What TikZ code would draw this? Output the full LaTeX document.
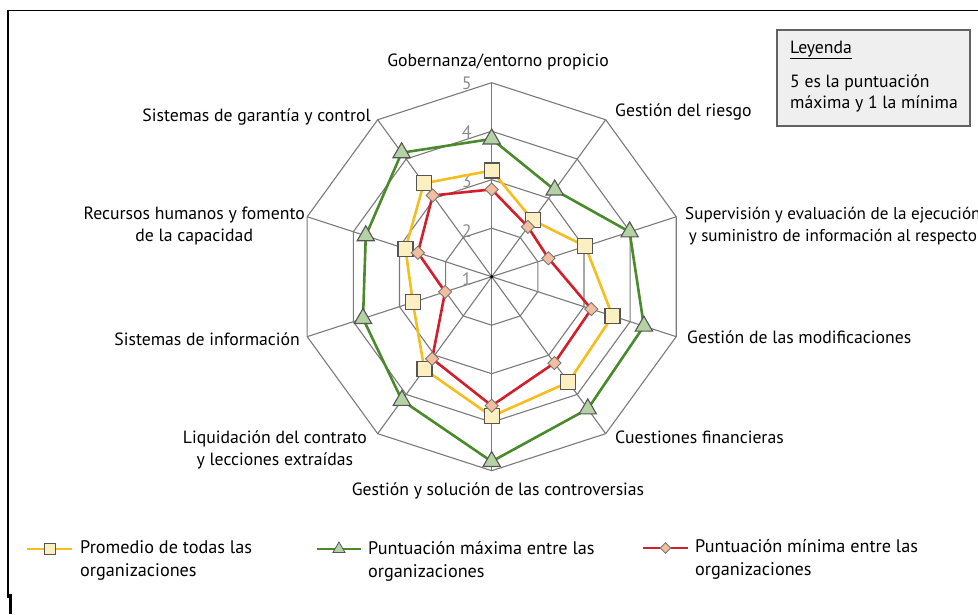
\documentclass[tikz,border=0pt]{standalone}
\usepackage{fontspec}
\setmainfont{PT Sans}
\usetikzlibrary{calc,shapes.geometric}
\definecolor{gridc}{HTML}{7A7A7A}
\definecolor{avgc}{HTML}{F5BE1E}
\definecolor{maxc}{HTML}{4A8A2A}
\definecolor{minc}{HTML}{D21F2B}
\definecolor{avgf}{HTML}{FCEFC2}
\definecolor{maxf}{HTML}{B4D2A4}
\definecolor{minf}{HTML}{F3BE9E}
\definecolor{markb}{HTML}{555555}
\definecolor{lvlc}{HTML}{8C8C8C}
\definecolor{legfill}{HTML}{EFEFEF}
\tikzset{
  gridline/.style={draw=gridc, line width=1.1pt},
  avgline/.style={draw=avgc, line width=2.6pt, line join=round},
  maxline/.style={draw=maxc, line width=2.6pt, line join=round},
  minline/.style={draw=minc, line width=2.6pt, line join=round},
  sqmark/.style={rectangle, draw=markb, fill=avgf, line width=1.2pt, minimum size=15pt, inner sep=0pt},
  trimark/.style={regular polygon, regular polygon sides=3, draw=markb, fill=maxf, line width=1.1pt, minimum size=20pt, inner sep=0pt},
  dimark/.style={diamond, draw=markb!80, fill=minf, line width=0.9pt, minimum size=13.5pt, inner sep=0pt},
  lvl/.style={text=lvlc, font=\fontsize{18}{18}\selectfont, inner sep=0pt},
  axl/.style={inner sep=0pt, align=center},
  legtext/.style={inner sep=0pt, anchor=west, align=left, font=\fontsize{18.2}{23}\selectfont},
  legbox/.style={draw=gridc!80!black, fill=legfill, line width=1.6pt, minimum width=193pt, minimum height=96pt, inner sep=0pt}
}
\begin{document}
\begin{tikzpicture}[x=1pt,y=-1pt, font=\fontsize{17.7}{22}\selectfont]
\useasboundingbox (0,0) rectangle (978,614);
% frame
\draw[line width=1.2pt] (8,598) -- (8,10.5) -- (978,10.5);
\draw[line width=2.2pt] (10.5,594) -- (10.5,614);
\coordinate (C) at (491.7,276.7);
% grid coordinates
\foreach \l in {1,...,4}{
  \foreach \k in {0,...,9}{
    \coordinate (g\l-\k) at ($(C)+(36*\k-90:\l*48.5)$);
  }
}
\foreach \k in {0,...,9}{ \draw[gridline] (C) -- (g4-\k); }
\foreach \l in {1,...,4}{
  \draw[gridline] (g\l-0) -- (g\l-1) -- (g\l-2) -- (g\l-3) -- (g\l-4) -- (g\l-5) -- (g\l-6) -- (g\l-7) -- (g\l-8) -- (g\l-9) -- cycle;
}
\fill (C) circle (1.8pt);
% level labels
\node[lvl] (lv1) at (466.7,279) {1};
\node[lvl] (lv2) at (466.7,231) {2};
\node[lvl] (lv3) at (466.7,181) {3};
\node[lvl] (lv4) at (466.7,132) {4};
\node[lvl] (lv5) at (466.7,83) {5};
% data
\foreach \v [count=\k from 0] in {3.19,2.44,3.03,3.62,3.69,3.88,3.36,2.71,2.87,3.38}{
  \coordinate (a\k) at ($(C)+(36*\k-90:{(\v-1)*48.5})$);
}
\foreach \v [count=\k from 0] in {3.84,3.21,3.99,4.30,4.37,4.81,4.15,3.79,3.73,4.16}{
  \coordinate (x\k) at ($(C)+(36*\k-90:{(\v-1)*48.5})$);
}
\foreach \v [count=\k from 0] in {2.80,2.27,2.23,3.16,3.20,3.66,3.09,2.01,2.60,3.07}{
  \coordinate (n\k) at ($(C)+(36*\k-90:{(\v-1)*48.5})$);
}
\draw[maxline] (x0) -- (x1) -- (x2) -- (x3) -- (x4) -- (x5) -- (x6) -- (x7) -- (x8) -- (x9) -- cycle;
\draw[avgline] (a0) -- (a1) -- (a2) -- (a3) -- (a4) -- (a5) -- (a6) -- (a7) -- (a8) -- (a9) -- cycle;
\draw[minline] (n0) -- (n1) -- (n2) -- (n3) -- (n4) -- (n5) -- (n6) -- (n7) -- (n8) -- (n9) -- cycle;
\foreach \k in {0,...,9}{
  \node[trimark] (mx\k) at (x\k) {};
  \node[sqmark] (ma\k) at (a\k) {};
  \node[dimark] (mn\k) at (n\k) {};
}
% axis labels
\node[axl] (t0) at (498,62) {Gobernanza/entorno propicio};
\node[axl, anchor=west] (t1) at (615,112) {Gestión del riesgo};
\node[axl, anchor=west, font=\fontsize{17.1}{22}\selectfont] (t2) at (685,226) {Supervisión y evaluación de la ejecución\\y suministro de información al respecto};
\node[axl, anchor=west] (t3) at (687,337) {Gestión de las modificaciones};
\node[axl, anchor=west] (t4) at (615,437) {Cuestiones financieras};
\node[axl] (t5) at (498,491) {Gestión y solución de las controversias};
\node[axl, anchor=east] (t6) at (367,449.5) {Liquidación del contrato\\y lecciones extraídas};
\node[axl, anchor=east] (t7) at (300,339) {Sistemas de información};
\node[axl, anchor=east] (t8) at (305,225.5) {Recursos humanos y fomento\\de la capacidad};
\node[axl, anchor=east] (t9) at (371,117) {Sistemas de garantía y control};
% legend box
\node[legbox] (lbox) at (873.5,78) {};
\node[anchor=west, inner sep=0pt] (lbt) at (790,50) {\underline{Leyenda}};
\node[anchor=west, inner sep=0pt, align=left, font=\fontsize{17.7}{21}\selectfont] (lbd) at (790,93.5) {5 es la puntuación\\máxima y 1 la mínima};
% bottom legend
\coordinate (ya) at (27,549); \coordinate (yb) at (72,549);
\draw[avgc, line width=2.6pt] (ya) -- (yb);
\node[sqmark, minimum size=11pt, line width=1pt] (ly) at ($(ya)!0.5!(yb)$) {};
\node[legtext] (lyt) at (80,560.5) {Promedio de todas las\\organizaciones};
\coordinate (ga) at (317,549); \coordinate (gb) at (361,549);
\draw[maxc, line width=2.6pt] (ga) -- (gb);
\node[trimark, minimum size=14pt, line width=0.8pt] (lg) at ($(ga)!0.5!(gb)$) {};
\node[legtext] (lgt) at (368,561) {Puntuación máxima entre las\\organizaciones};
\coordinate (ra) at (643,548); \coordinate (rb) at (688,548);
\draw[minc, line width=2.6pt] (ra) -- (rb);
\node[dimark, minimum size=11pt] (lr) at ($(ra)!0.5!(rb)$) {};
\node[legtext] (lrt) at (695,559.5) {Puntuación mínima entre las\\organizaciones};
\end{tikzpicture}
\end{document}
